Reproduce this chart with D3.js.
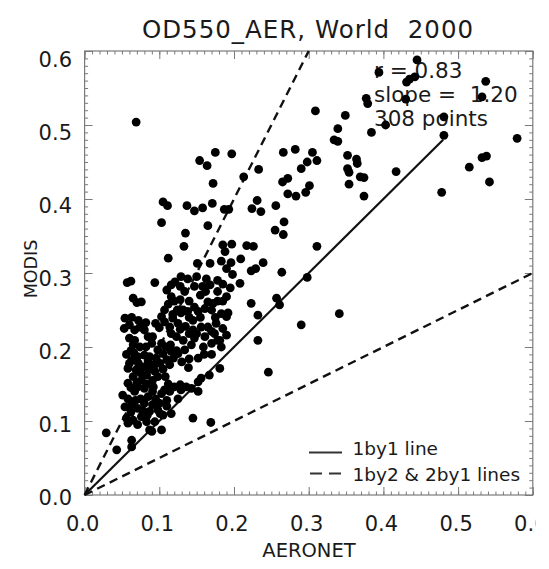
<!DOCTYPE html>
<html><head><meta charset="utf-8">
<script src="https://cdn.jsdelivr.net/npm/d3@7"></script>
<style>
html,body{margin:0;padding:0;background:#fff;overflow:hidden;}
text{font-family:"DejaVu Sans",sans-serif;fill:#1a1a1a;}
</style>
</head><body>
<svg id="chart" width="549" height="569"></svg>
<script>
const title = "OD550_AER, World  2000";
const xLabel = "AERONET";
const yLabel = "MODIS";
const xTicks = [0, 0.1, 0.2, 0.3, 0.4, 0.5, 0.6];
const xTickLabels = ["0.0", "0.1", "0.2", "0.3", "0.4", "0.5", "0.6"];
const yTicks = [0, 0.1, 0.2, 0.3, 0.4, 0.5, 0.6];
const yTickLabels = ["0.0", "0.1", "0.2", "0.3", "0.4", "0.5", "0.6"];
const statLines = ["r = 0.83", "slope =  1.20", "308 points"];
const legendLabels = ["1by1 line", "1by2 & 2by1 lines"];
const oneByOneMax = 0.48;
// [AERONET, MODIS]
const points = [
[0.069,0.504],[0.175,0.463],[0.197,0.461],[0.154,0.452],[0.164,0.445],[0.213,0.430],[0.233,0.440],[0.172,0.421],[0.266,0.463],[0.282,0.467],
[0.290,0.441],[0.265,0.423],[0.272,0.428],[0.272,0.407],[0.283,0.404],[0.105,0.396],[0.111,0.391],[0.137,0.391],[0.147,0.384],[0.158,0.388],
[0.171,0.394],[0.187,0.386],[0.193,0.386],[0.224,0.387],[0.231,0.398],[0.236,0.383],[0.256,0.391],[0.103,0.368],[0.165,0.364],[0.267,0.369],
[0.255,0.358],[0.266,0.352],[0.135,0.354],[0.133,0.336],[0.185,0.338],[0.197,0.339],[0.188,0.329],[0.217,0.337],[0.226,0.336],[0.112,0.320],
[0.151,0.313],[0.168,0.313],[0.183,0.316],[0.196,0.314],[0.209,0.319],[0.239,0.314],[0.190,0.306],[0.198,0.298],[0.223,0.303],[0.229,0.306],
[0.264,0.301],[0.298,0.294],
[0.445,0.588],[0.394,0.571],[0.435,0.562],[0.442,0.565],[0.431,0.558],[0.537,0.559],[0.532,0.538],[0.377,0.536],[0.379,0.529],[0.430,0.535],
[0.309,0.519],[0.349,0.513],[0.481,0.511],[0.403,0.500],[0.339,0.495],[0.384,0.490],[0.481,0.486],[0.579,0.482],[0.334,0.480],[0.339,0.478],
[0.305,0.463],[0.311,0.452],[0.298,0.450],[0.352,0.459],[0.364,0.454],[0.365,0.448],[0.352,0.441],[0.354,0.436],[0.369,0.430],[0.374,0.429],
[0.354,0.420],[0.374,0.404],[0.417,0.437],[0.515,0.443],[0.532,0.456],[0.538,0.458],[0.542,0.423],[0.478,0.409],[0.301,0.418],[0.296,0.409],
[0.311,0.336],[0.341,0.245],[0.290,0.230],[0.246,0.166],[0.232,0.209],
[0.057,0.287],[0.062,0.289],[0.094,0.287],[0.129,0.295],[0.138,0.292],[0.150,0.295],[0.163,0.292],[0.178,0.290],[0.208,0.286],[0.121,0.288],
[0.110,0.277],[0.116,0.284],[0.065,0.266],[0.070,0.260],[0.076,0.261],[0.116,0.268],[0.128,0.264],[0.132,0.250],[0.107,0.250],[0.103,0.241],
[0.107,0.234],[0.114,0.227],[0.054,0.239],[0.063,0.240],[0.053,0.225],[0.067,0.223],[0.074,0.227],[0.080,0.223],[0.085,0.214],[0.067,0.209],
[0.065,0.203],[0.074,0.200],[0.091,0.214],[0.103,0.205],[0.109,0.200],[0.116,0.218],[0.123,0.214],[0.132,0.209],[0.134,0.196],[0.143,0.203],
[0.147,0.212],[0.129,0.246],[0.138,0.248],[0.152,0.248],[0.161,0.252],[0.165,0.261],[0.178,0.275],[0.156,0.227],[0.165,0.227],[0.161,0.214],
[0.174,0.218],[0.170,0.205],[0.181,0.209],[0.183,0.200],[0.145,0.236],[0.118,0.239],[0.125,0.232],[0.172,0.259],[0.185,0.262],[0.232,0.243],
[0.257,0.266],[0.261,0.257],[0.223,0.259],[0.190,0.241],[0.192,0.246],[0.176,0.232],[0.185,0.225],[0.190,0.216],[0.178,0.209],[0.170,0.221],
[0.145,0.223],[0.139,0.172],[0.156,0.158],[0.152,0.153],[0.181,0.171],[0.145,0.104],[0.169,0.098],[0.136,0.146],[0.128,0.149],[0.116,0.110],
[0.103,0.088],[0.090,0.086],[0.029,0.084],[0.043,0.061],[0.063,0.074],[0.063,0.065],
[0.063,0.182],[0.071,0.187],[0.080,0.189],[0.087,0.187],[0.058,0.171],[0.069,0.169],[0.078,0.173],[0.089,0.176],[0.094,0.167],[0.083,0.162],
[0.065,0.160],[0.058,0.151],[0.076,0.155],[0.091,0.155],[0.101,0.178],[0.105,0.191],[0.116,0.194],[0.125,0.191],[0.114,0.176],[0.051,0.135],
[0.067,0.140],[0.071,0.146],[0.080,0.144],[0.085,0.133],[0.091,0.140],[0.103,0.137],[0.107,0.142],[0.114,0.140],[0.120,0.146],[0.129,0.142],
[0.143,0.144],[0.167,0.162],[0.054,0.119],[0.063,0.122],[0.071,0.117],[0.080,0.124],[0.091,0.122],[0.098,0.115],[0.087,0.113],[0.056,0.104],
[0.065,0.101],[0.076,0.106],[0.071,0.095],[0.058,0.097],[0.083,0.099],[0.094,0.099],[0.105,0.108],[0.087,0.088],[0.152,0.140],
[0.060,0.178],[0.072,0.178],[0.085,0.181],[0.096,0.185],[0.066,0.192],[0.075,0.165],[0.086,0.170],[0.098,0.160],[0.070,0.152],[0.083,0.150],
[0.062,0.145],[0.092,0.146],[0.058,0.130],[0.075,0.130],[0.095,0.130],[0.110,0.128],[0.062,0.112],[0.078,0.114],[0.100,0.124],[0.068,0.128],
[0.084,0.108],[0.112,0.258],[0.120,0.262],[0.124,0.250],[0.118,0.244],[0.140,0.240],[0.135,0.228],[0.128,0.224],[0.140,0.218],[0.150,0.218],
[0.155,0.240],[0.147,0.254],[0.140,0.262],[0.134,0.275],[0.128,0.282],[0.147,0.282],[0.158,0.282],[0.168,0.284],[0.100,0.226],[0.095,0.232],
[0.090,0.205],[0.082,0.200],[0.098,0.196],[0.115,0.203],[0.123,0.195],[0.082,0.233],[0.060,0.230],[0.060,0.212],[0.072,0.236],[0.159,0.200],
[0.160,0.190],[0.170,0.190],[0.152,0.185],[0.140,0.184],[0.130,0.180],[0.108,0.160],[0.112,0.150],[0.125,0.130],
[0.175,0.240],[0.183,0.245],[0.170,0.250],[0.178,0.262],[0.190,0.268],[0.195,0.280],[0.185,0.285],[0.155,0.270],[0.162,0.275],[0.093,0.175],
[0.105,0.170],[0.110,0.183],[0.119,0.185],[0.062,0.195],[0.056,0.190],[0.101,0.110],[0.110,0.120]
];

const L = 84.6, R = 532.8, T = 51, B = 495;
const svg = d3.select("#chart");
const x = d3.scaleLinear().domain([0, 0.6]).range([L, R]);
const y = d3.scaleLinear().domain([0, 0.6]).range([B, T]);
const frameColor = "#7a7a7a";

svg.append("defs").append("clipPath").attr("id", "clipR")
  .append("rect").attr("x", 0).attr("y", 0).attr("width", 536).attr("height", 569);

const minor = d3.range(0, 61).map(i => i / 100);
function styleAxis(g) {
  g.select(".domain").remove();
  g.selectAll(".tick line").attr("stroke", frameColor).attr("stroke-width", 1);
  g.selectAll("text").remove();
}
// bottom / top
svg.append("g").attr("transform", `translate(0,${B})`).call(d3.axisBottom(x).tickValues(minor).tickSize(-3.5)).call(styleAxis);
svg.append("g").attr("transform", `translate(0,${B})`).call(d3.axisBottom(x).tickValues(xTicks).tickSize(-8)).call(styleAxis);
svg.append("g").attr("transform", `translate(0,${T})`).call(d3.axisTop(x).tickValues(minor).tickSize(-3.5)).call(styleAxis);
svg.append("g").attr("transform", `translate(0,${T})`).call(d3.axisTop(x).tickValues(xTicks).tickSize(-8)).call(styleAxis);
// left / right
svg.append("g").attr("transform", `translate(${L},0)`).call(d3.axisLeft(y).tickValues(minor).tickSize(-3.5)).call(styleAxis);
svg.append("g").attr("transform", `translate(${L},0)`).call(d3.axisLeft(y).tickValues(yTicks).tickSize(-8)).call(styleAxis);
svg.append("g").attr("transform", `translate(${R},0)`).call(d3.axisRight(y).tickValues(minor).tickSize(-3.5)).call(styleAxis);
svg.append("g").attr("transform", `translate(${R},0)`).call(d3.axisRight(y).tickValues(yTicks).tickSize(-8)).call(styleAxis);

svg.append("rect").attr("x", L).attr("y", T).attr("width", R - L).attr("height", B - T)
  .attr("fill", "none").attr("stroke", frameColor).attr("stroke-width", 1.2);

// tick labels
svg.append("g").attr("clip-path", "url(#clipR)").selectAll("text").data(xTicks).join("text")
  .attr("x", d => x(d) - 2).attr("y", 531).attr("text-anchor", "middle")
  .attr("font-size", 21).text((d, i) => xTickLabels[i]);
svg.append("g").selectAll("text").data(yTicks).join("text")
  .attr("x", 72).attr("y", d => y(d) + 2 + 10 * d + 7.5).attr("text-anchor", "end")
  .attr("font-size", 21).text((d, i) => yTickLabels[i]);

// titles
svg.append("text").attr("x", 308).attr("y", 38).attr("text-anchor", "middle")
  .attr("font-size", 24.5).attr("letter-spacing", 1).style("white-space", "pre").text(title);
svg.append("text").attr("x", 309).attr("y", 557).attr("text-anchor", "middle")
  .attr("font-size", 19.5).text(xLabel);
svg.append("text").attr("transform", "translate(37,269) rotate(-90)").attr("text-anchor", "middle")
  .attr("font-size", 17.5).text(yLabel);

// reference lines
const lineGen = d3.line().x(d => x(d[0])).y(d => y(d[1]));
svg.append("path").datum([[0, 0], [oneByOneMax, oneByOneMax]]).attr("d", lineGen)
  .attr("fill", "none").attr("stroke", "#111").attr("stroke-width", 2.2);
svg.append("path").datum([[0, 0], [0.3, 0.6]]).attr("d", lineGen)
  .attr("fill", "none").attr("stroke", "#111").attr("stroke-width", 2.4).attr("stroke-dasharray", "8.5,5.5");
svg.append("path").datum([[0, 0], [0.6, 0.3]]).attr("d", lineGen)
  .attr("fill", "none").attr("stroke", "#111").attr("stroke-width", 2.4).attr("stroke-dasharray", "8.5,5.5");

// stats text
svg.append("g").selectAll("text").data(statLines).join("text")
  .attr("x", 374).attr("y", (d, i) => 78 + i * 24).attr("font-size", 21.5)
  .style("white-space", "pre").text(d => d);

// legend
const lg = svg.append("g");
lg.append("line").attr("x1", 309).attr("x2", 342).attr("y1", 452.5).attr("y2", 452.5)
  .attr("stroke", "#333").attr("stroke-width", 2.2);
lg.append("line").attr("x1", 310).attr("x2", 342).attr("y1", 473.5).attr("y2", 473.5)
  .attr("stroke", "#333").attr("stroke-width", 2.2).attr("stroke-dasharray", "12,7");
lg.selectAll("text").data(legendLabels).join("text")
  .attr("x", 352.5).attr("y", (d, i) => 455 + i * 25.5).attr("font-size", 18.5).text(d => d);

// points
svg.append("g").selectAll("circle").data(points).join("circle")
  .attr("cx", d => x(d[0])).attr("cy", d => y(d[1])).attr("r", 4.4).attr("fill", "#000");
</script>
</body></html>
